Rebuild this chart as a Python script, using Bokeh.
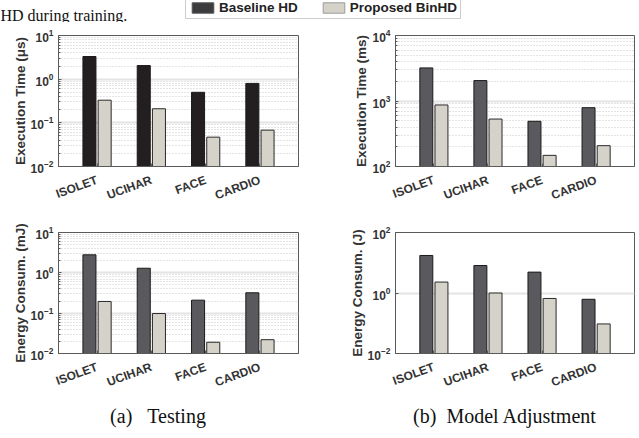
from bokeh.plotting import figure
from bokeh.models import (FactorRange, FixedTicker, Legend, LegendItem, Range1d, ColumnDataSource)
from bokeh.layouts import column, row
from bokeh.transform import dodge
from bokeh.core.properties import value
from bokeh.embed import file_html
from bokeh.resources import INLINE

# ---------------- data ----------------
datasets = ["ISOLET", "UCIHAR", "FACE", "CARDIO"]
series_names = ["Baseline HD", "Proposed BinHD"]

test_time_baseline = [3.3, 2.05, 0.5, 0.8]          # us
test_time_binhd = [0.33, 0.21, 0.047, 0.068]
adj_time_baseline = [3200, 2050, 490, 790]          # ms
adj_time_binhd = [870, 530, 148, 208]
test_energy_baseline = [2.8, 1.3, 0.21, 0.32]       # mJ
test_energy_binhd = [0.195, 0.098, 0.019, 0.022]
adj_energy_baseline = [17.4, 8.1, 4.9, 0.62]        # J
adj_energy_binhd = [2.3, 1.0, 0.66, 0.095]

captions = ["(a)\u00a0\u00a0\u00a0Testing", "(b)\u00a0\u00a0Model Adjustment"]
cropped_text = "HD during training."

# ---------------- style ----------------
FONT = "Liberation Sans"
SERIF = "Liberation Serif"
BLACKISH = "#231f20"
DARK = "#5a5a5e"
LIGHT = "#d5d2c9"
FRAME = "#5a5a5a"
TXT = "#333333"


def decade_ticks(lo, hi, step=1):
    return [10.0 ** e for e in range(lo, hi + 1, step)]


def minor_ticks(lo, hi):
    return [m * 10.0 ** e for e in range(lo, hi) for m in range(2, 10)]


def panel(base, prop, ylabel, lo, hi, base_color, width, height, left, right, top, bottom,
          step=1, with_minor=True):
    p = figure(x_range=FactorRange(factors=datasets, range_padding=0.21,
                                   range_padding_units="absolute"),
               y_axis_type="log", y_range=Range1d(10.0 ** lo, 10.0 ** hi),
               width=width, height=height,
               min_border_left=left, min_border_right=right,
               min_border_top=top, min_border_bottom=bottom,
               output_backend="svg", toolbar_location=None)
    src = ColumnDataSource(dict(ds=datasets, base=base, prop=prop))
    floor = 10.0 ** lo
    p.vbar(x=dodge("ds", -0.14, range=p.x_range), top="base", bottom=floor, width=0.24,
           source=src, fill_color=base_color, line_color="#1a1a1a", line_width=1)
    p.vbar(x=dodge("ds", 0.14, range=p.x_range), top="prop", bottom=floor, width=0.24,
           source=src, fill_color=LIGHT, line_color="#2a2a2a", line_width=1)

    majors = decade_ticks(lo, hi, step)
    minors = minor_ticks(lo, hi) if with_minor else []

    yax = p.yaxis[0]
    yax.ticker = FixedTicker(ticks=majors, minor_ticks=minors)
    yax.axis_label = ylabel
    yax.axis_label_text_font = FONT
    yax.axis_label_text_font_style = "bold"
    yax.axis_label_text_font_size = "13.5px"
    yax.axis_label_text_color = TXT
    yax.axis_label_standoff = 0
    yax.major_label_text_font = FONT
    yax.major_label_text_font_style = "bold"
    yax.major_label_text_font_size = "12px"
    yax.major_label_text_color = TXT
    yax.major_label_standoff = 5
    yax.major_tick_in = 3
    yax.major_tick_out = 0
    yax.minor_tick_in = 2
    yax.minor_tick_out = 0
    yax.axis_line_color = FRAME
    yax.major_tick_line_color = FRAME
    yax.minor_tick_line_color = FRAME

    xax = p.xaxis[0]
    xax.major_label_orientation = 0.35
    xax.major_label_text_font = FONT
    xax.major_label_text_font_style = "bold"
    xax.major_label_text_font_size = "12px"
    xax.major_label_text_color = TXT
    xax.major_label_standoff = 13
    xax.major_tick_in = 3
    xax.major_tick_out = 0
    xax.axis_line_color = FRAME
    xax.major_tick_line_color = FRAME

    p.xgrid.grid_line_color = None
    p.ygrid.grid_line_color = "#e4e4e4"
    p.ygrid.grid_line_width = 2
    if with_minor:
        p.ygrid.minor_grid_line_color = "#c8c8c8"
        p.ygrid.minor_grid_line_dash = "1 2"
        p.ygrid.minor_grid_line_width = 1
    p.outline_line_color = FRAME
    p.outline_line_width = 1
    p.background_fill_color = "white"
    p.border_fill_color = "white"
    return p


W1, W2 = 318, 320
H0, H1, H2, H3 = 22, 198, 178, 39

p1 = panel(test_time_baseline, test_time_binhd, "Execution Time (\u03bcs)", -2, 1, BLACKISH,
           W1, H1, 58, 20, 13, 54)
p2 = panel(adj_time_baseline, adj_time_binhd, "Execution Time (ms)", 2, 4, DARK,
           W2, H1, 77, 4, 13, 54)
p3 = panel(test_energy_baseline, test_energy_binhd, "Energy Consum. (mJ)", -2, 1, DARK,
           W1, H2, 58, 20, 12, 34)
p4 = panel(adj_energy_baseline, adj_energy_binhd, "Energy Consum. (J)", -2, 2, DARK,
           W2, H2, 77, 4, 12, 34, step=2, with_minor=False)

# ---------------- header (cropped caption + legend) ----------------
hdr = figure(width=W1 + W2, height=H0, x_range=Range1d(0, W1 + W2), y_range=Range1d(0, H0),
             x_axis_location=None, y_axis_location=None, min_border=0,
             output_backend="svg", toolbar_location=None)
hdr.grid.visible = False
hdr.outline_line_color = None
hdr.text(x=[0], y=[7.5], text=[cropped_text], text_font=value(SERIF), text_font_size="16px",
         text_baseline="alphabetic", text_color="#111111")
# legend swatch renderers (kept outside the visible range)
r_base = hdr.vbar(x=[-100], top=[-100], bottom=[-101], width=1,
                  fill_color="#3c3c3e", line_color="#555555")
r_prop = hdr.vbar(x=[-100], top=[-100], bottom=[-101], width=1,
                  fill_color=LIGHT, line_color="#9a9a9a")
legend = Legend(items=[LegendItem(label=series_names[0], renderers=[r_base]),
                       LegendItem(label=series_names[1], renderers=[r_prop])],
                location=(185, 3), orientation="horizontal",
                glyph_width=27, glyph_height=13, label_height=13, label_standoff=3,
                spacing=22, padding=3, margin=0,
                label_text_font=FONT, label_text_font_style="bold",
                label_text_font_size="13.5px", label_text_color="#222222",
                label_text_baseline="middle",
                border_line_color="#9a9a9a", border_line_width=1,
                background_fill_color="white", background_fill_alpha=1.0)
hdr.add_layout(legend)

# ---------------- captions ----------------
cap = figure(width=W1 + W2, height=H3, x_range=Range1d(0, W1 + W2), y_range=Range1d(0, H3),
             x_axis_location=None, y_axis_location=None, min_border=0,
             output_backend="svg", toolbar_location=None)
cap.grid.visible = False
cap.outline_line_color = None
cap.text(x=[157.5, 504.5], y=[22, 22], text=captions, text_font=value(SERIF),
         text_font_size="20px", text_align="center", text_baseline="middle",
         text_color="#111111")

layout = column(hdr, row(p1, p2), row(p3, p4), cap, spacing=0)

open("out.html", "w").write(file_html(layout, INLINE))
